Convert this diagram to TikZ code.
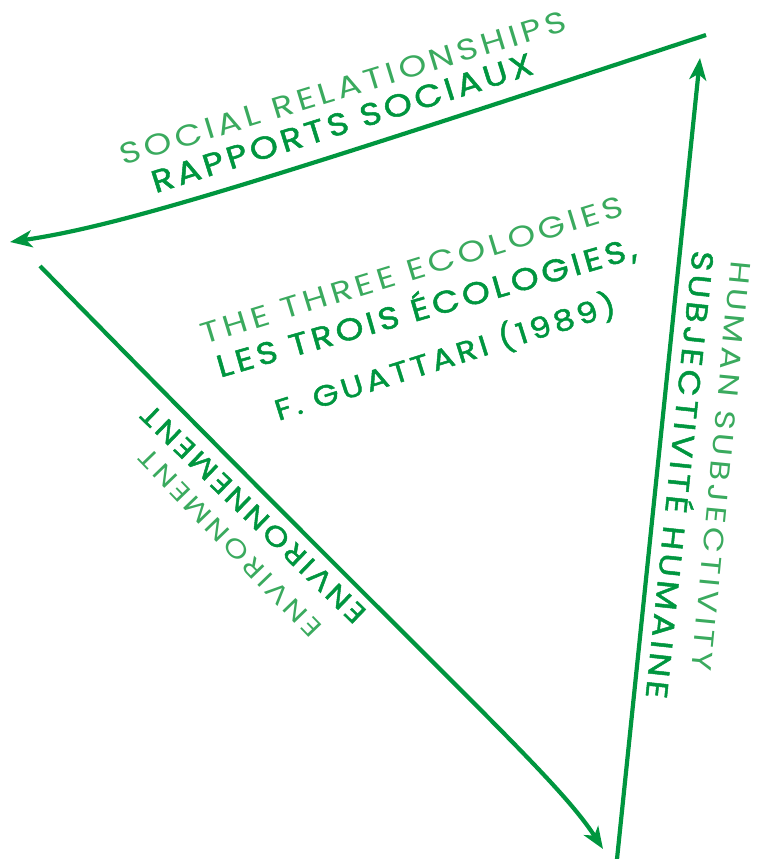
\documentclass[tikz,border=0pt]{standalone}
\usepackage{fontspec}
\usepackage{graphicx}
\setmainfont{Poppins}[LetterSpace=14,FakeStretch=1.2]
\newfontfamily\heavyf{Poppins}[LetterSpace=12,FakeStretch=1.15,FakeBold=1.6]
\usetikzlibrary{arrows.meta}
\definecolor{eco}{HTML}{00963F}
\definecolor{ecolight}{HTML}{3AAA5E}
\newcommand\fitw[2]{\resizebox{#1pt}{!}{#2}}
\tikzset{
  conn/.style={line width=4.2pt,draw=eco,-{Stealth[length=22pt,width=17pt,inset=6pt]}},
  entext/.style={text=ecolight,inner sep=0pt,font=\fontsize{24}{26}\selectfont},
  frtext/.style={text=eco,inner sep=0pt,font=\heavyf\fontsize{24}{26}\selectfont},
}
\begin{document}
\begin{tikzpicture}[x=1pt,y=1pt]
\useasboundingbox (0,0) rectangle (763,-859);
\coordinate (tr) at (706,-35);
\coordinate (tl) at (10,-242);
\coordinate (ls) at (40,-266);
\coordinate (lb) at (603,-849);
\coordinate (rb) at (617,-859);
\coordinate (rt) at (700,-58);
\draw[conn] (tr) .. controls (260,-182) and (120,-226) .. (tl);
\draw[conn] (ls) .. controls (450,-685) and (555,-775) .. (lb);
\draw[conn] (rb) -- (rt);

\node[entext,rotate=17] (sr) at (343,-88) {\fitw{465}{SOCIAL RELATIONSHIPS}};
\node[frtext,rotate=17.5] (rs) at (342,-123) {\fitw{398}{RAPPORTS SOCIAUX}};
\node[entext,rotate=17] (te) at (412,-270) {\fitw{440}{THE THREE ECOLOGIES}};
\node[frtext,rotate=16] (le) at (426,-306) {\fitw{435}{LES TROIS ÉCOLOGIES,}};
\node[frtext,rotate=17.5] (fg) at (445,-357) {\fitw{356}{F. GUATTARI (1989)}};
\node[entext,rotate=134] (en) at (230,-543) {\fitw{250}{ENVIRONMENT}};
\node[frtext,rotate=136] (enf) at (253,-514) {\fitw{300}{ENVIRONNEMENT}};
\node[entext,rotate=-95.5] (hs) at (721,-466) {\fitw{412}{HUMAN SUBJECTIVITY}};
\node[frtext,rotate=-96] (sh) at (683,-475) {\fitw{450}{SUBJECTIVITÉ HUMAINE}};
\end{tikzpicture}
\end{document}
